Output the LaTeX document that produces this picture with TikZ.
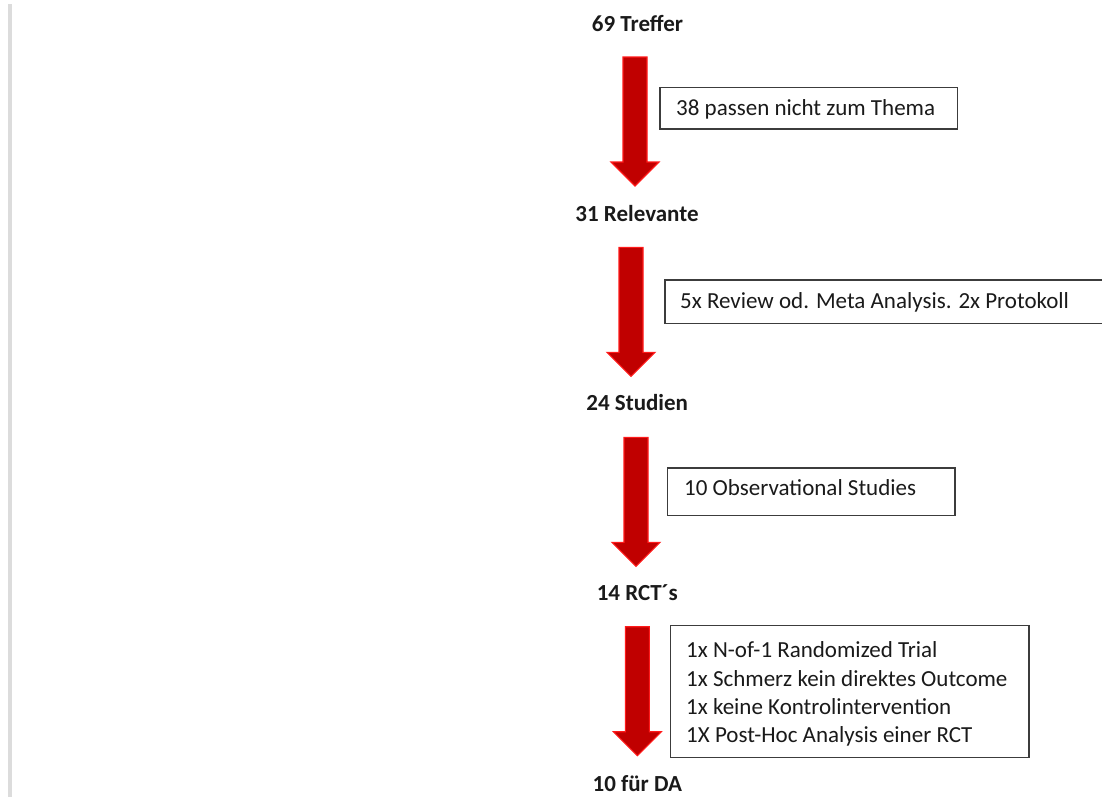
\documentclass[tikz,border=0pt]{standalone}
\usepackage{fontspec}
\setmainfont{Carlito}
\definecolor{arrowfill}{HTML}{C00000}
\definecolor{arrowedge}{HTML}{FF1A1A}
\definecolor{bargray}{HTML}{DCDCDC}
\definecolor{framegray}{HTML}{3C3C3C}
\definecolor{txt}{HTML}{1A1A1A}
\tikzset{
  stagelabel/.style={font=\fontsize{23}{28}\selectfont\bfseries, text=txt, inner sep=0pt, anchor=base},
  frame/.style={draw=framegray, line width=1.2pt, fill=white, anchor=north west, inner sep=0pt},
  boxtext/.style={font=\fontsize{23}{28.1}\selectfont, text=txt, inner sep=0pt, align=left},
  arrowbody/.style={fill=arrowfill, draw=arrowedge, line width=1.1pt, line join=miter},
  pics/blockarrow/.style={code={
    \draw[arrowbody] (-12,0) -- (12,0) -- (12,105) -- (24,105) -- (0,129) -- (-24,105) -- (-12,105) -- cycle;}}
}
\begin{document}
\begin{tikzpicture}[x=1pt,y=-1pt]
\useasboundingbox (0,0) rectangle (1102,796);
% left gray bar
\fill[bargray] (8,4) rectangle (12,800);
% stage labels
\node[stagelabel] (t1) at (637.5,31.7) {69 Treffer};
\node[stagelabel] (t2) at (637,221.7) {31 Relevante};
\node[stagelabel] (t3) at (637.2,410.7) {24 Studien};
\node[stagelabel] (t4) at (637.3,600.7) {14 RCT´s};
\node[stagelabel] (t5) at (637.3,791.7) {10 für DA};
% arrows
\coordinate (a1) at (635,57);
\coordinate (a2) at (631,247.3);
\coordinate (a3) at (636,437.3);
\coordinate (a4) at (637.4,626.7);
\pic at (a1) {blockarrow};
\pic at (a2) {blockarrow};
\pic at (a3) {blockarrow};
\pic at (a4) {blockarrow};
% boxes
\node[frame, minimum width=297.4pt, minimum height=41.6pt] (b1) at (659.3,86.7) {};
\node[boxtext, anchor=base west] (b1t) at (676,115) {38 passen nicht zum Thema};
\node[frame, minimum width=446pt, minimum height=43.4pt] (b2) at (664.3,279.3) {};
\node[boxtext, anchor=base west] (b2t) at (680,308.3) {5x Review od. Meta Analysis. 2x Protokoll};
\node[frame, minimum width=287.6pt, minimum height=47.7pt] (b3) at (666.7,467.3) {};
\node[boxtext, anchor=base west] (b3t) at (684,495) {10 Observational Studies};
\node[frame, minimum width=358.3pt, minimum height=131.7pt] (b4) at (670,625) {};
\node[boxtext, anchor=west] (b4t) at ([xshift=16pt,yshift=-2.5pt]b4.west) {1x N-of-1 Randomized Trial\\1x Schmerz kein direktes Outcome\\1x keine Kontrolintervention\\1X Post-Hoc Analysis einer RCT};
\end{tikzpicture}
\end{document}
